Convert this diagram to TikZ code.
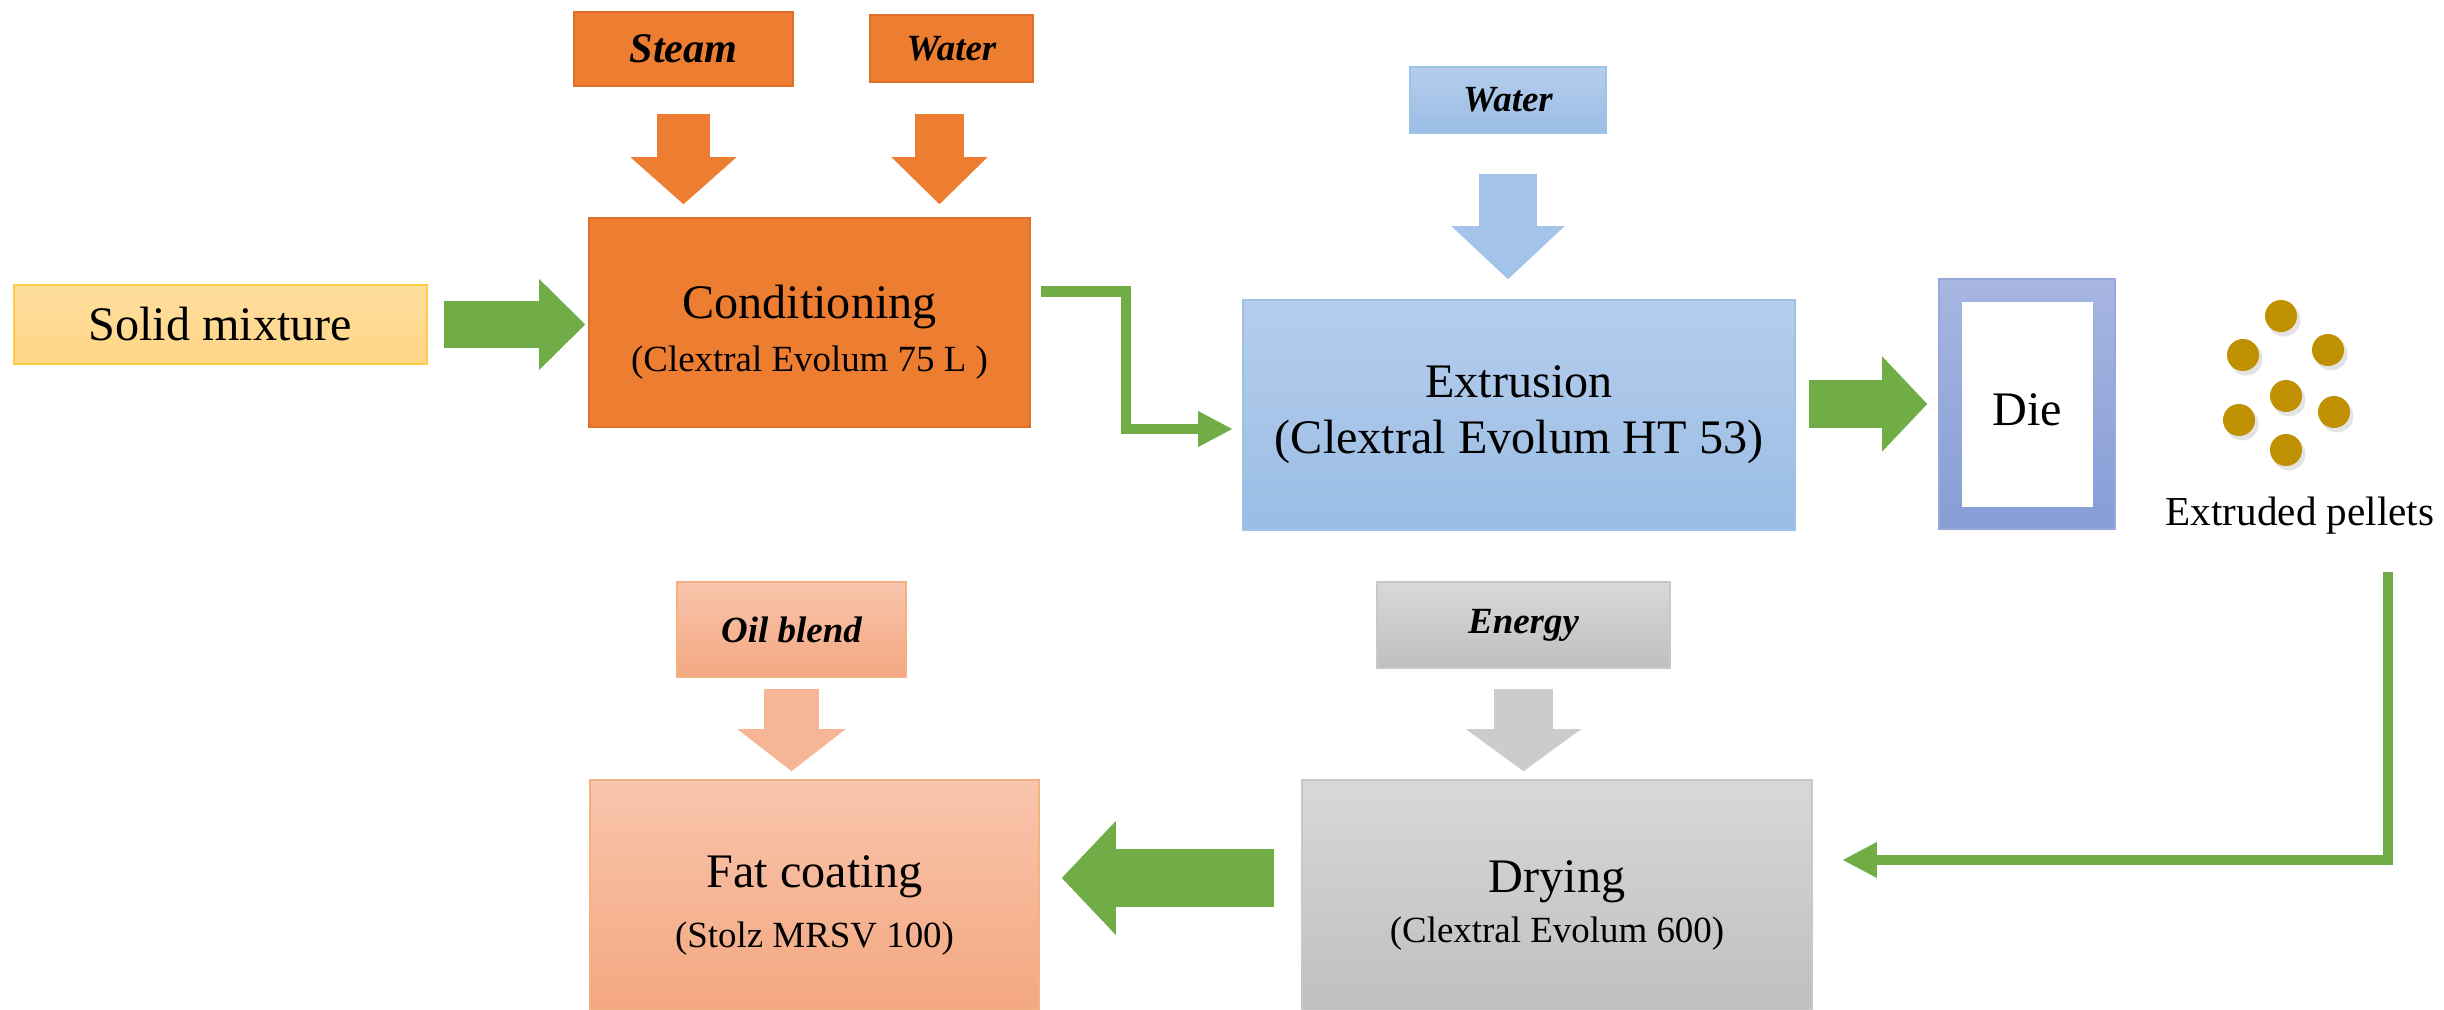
\documentclass[tikz,border=0pt]{standalone}
\usepackage{fontspec}
\setmainfont{Liberation Serif}
\usetikzlibrary{arrows.meta, positioning}
\definecolor{condcolor}{RGB}{237, 125, 49}
\definecolor{condedge}{RGB}{222, 112, 40}
\definecolor{solidtop}{RGB}{255, 223, 158}
\definecolor{solidbot}{RGB}{255, 213, 135}
\definecolor{solidedge}{RGB}{255, 204, 70}
\definecolor{extrtop}{RGB}{182, 205, 237}
\definecolor{extrbot}{RGB}{153, 189, 228}
\definecolor{extredge}{RGB}{157, 195, 230}
\definecolor{extrarrow}{RGB}{163, 196, 232}
\definecolor{dietop}{RGB}{167, 182, 225}
\definecolor{diebot}{RGB}{134, 157, 214}
\definecolor{dieedge}{RGB}{150, 170, 220}
\definecolor{fattop}{RGB}{248, 197, 173}
\definecolor{fatbot}{RGB}{244, 167, 128}
\definecolor{fatedge}{RGB}{244, 177, 131}
\definecolor{fatarrow}{RGB}{246, 182, 150}
\definecolor{drytop}{RGB}{216, 216, 216}
\definecolor{drybot}{RGB}{191, 191, 191}
\definecolor{dryedge}{RGB}{200, 200, 200}
\definecolor{dryarrow}{RGB}{204, 204, 204}
\definecolor{flowgreen}{RGB}{112, 173, 71}
\definecolor{pelletcolor}{RGB}{191, 144, 0}
\newcommand{\subline}[1]{{\fontsize{10.5}{12}\selectfont #1}}
\newcommand{\topgap}{\rule{0pt}{15pt}}
\tikzset{
  procbox/.style={
    rectangle, thin, inner sep=0pt, align=center, text=black,
    font=\fontsize{13.7}{16}\selectfont
  },
  feedbox/.style={
    rectangle, thin, inner sep=0pt, text=black,
    font=\fontsize{10.5}{12}\selectfont\bfseries\itshape
  },
  fatarr/.style n args={3}{
    line width=#1, -{Triangle[width=#2, length=#3, line width=0pt]}
  },
  thinarr/.style={
    line width=0.105cm, draw=flowgreen,
    -{Triangle[width=0.36cm, length=0.34cm, line width=0pt]}
  }
}

\begin{document}
\begin{tikzpicture}[x=0.01cm, y=-0.01cm]
  \useasboundingbox (0,0) rectangle (2444,1010);

  % ── Feeds ──────────────────────────────────────────────────────
  \node[feedbox, fill=condcolor, draw=condedge, minimum width=2.19cm,
        minimum height=0.74cm, font=\fontsize{12}{14}\selectfont\bfseries\itshape]
    (steam) at (683.5,49) {Steam};
  \node[feedbox, fill=condcolor, draw=condedge, minimum width=1.63cm,
        minimum height=0.67cm] (condwater) at (951.5,48.5) {Water};
  \node[feedbox, top color=extrtop, bottom color=extrbot, draw=extredge,
        minimum width=1.96cm, minimum height=0.66cm] (extrwater) at (1508,100) {Water};
  \node[feedbox, top color=fattop, bottom color=fatbot, draw=fatedge,
        minimum width=2.29cm, minimum height=0.95cm] (oil) at (791.5,629.5) {Oil blend};
  \node[feedbox, top color=drytop, bottom color=drybot, draw=dryedge,
        minimum width=2.93cm, minimum height=0.86cm] (energy) at (1523.5,625) {Energy};

  % ── Process steps ──────────────────────────────────────────────
  \node[procbox, top color=solidtop, bottom color=solidbot, draw=solidedge,
        minimum width=4.13cm, minimum height=0.79cm] (solid) at (220.5,324.5) {Solid mixture};
  \node[procbox, fill=condcolor, draw=condedge,
        minimum width=4.41cm, minimum height=2.09cm] (cond) at (809.5,322.5)
    {\topgap Conditioning\\[-1pt]\subline{(Clextral Evolum 75 L )}};
  \node[procbox, top color=extrtop, bottom color=extrbot, draw=extredge,
        minimum width=5.52cm, minimum height=2.30cm] (extr) at (1519,415)
    {Extrusion\\(Clextral Evolum HT 53)};
  \node[procbox, top color=dietop, bottom color=diebot, draw=dieedge,
        minimum width=1.76cm, minimum height=2.50cm] (die) at (2027,404) {};
  \node[procbox, fill=white, minimum width=1.31cm, minimum height=2.05cm]
    (diein) at (2027.5,404.5) {\rule{0pt}{12pt}Die};
  \node[procbox, top color=fattop, bottom color=fatbot, draw=fatedge,
        minimum width=4.49cm, minimum height=2.30cm] (fat) at (814.5,895)
    {\topgap Fat coating\\[1pt]\subline{(Stolz MRSV 100)}};
  \node[procbox, top color=drytop, bottom color=drybot, draw=dryedge,
        minimum width=5.10cm, minimum height=2.30cm] (dry) at (1557,895)
    {\topgap Drying\\[-2pt]\subline{(Clextral Evolum 600)}};

  % ── Pellets ────────────────────────────────────────────────────
  \foreach \px/\py in {2281/316, 2243/355, 2328/350, 2286/396,
                       2239/420, 2334/412, 2286/450} {
    \fill[gray!22] (\px+3,\py+4) circle[radius=0.165cm];
    \fill[pelletcolor] (\px,\py) circle[radius=0.16cm];
  }
  \node[font=\fontsize{11.7}{14}\selectfont] (pellets) at (2300,516) {Extruded pellets};
  \coordinate (pelletsout) at (2388,572);

  % ── Feed arrows ────────────────────────────────────────────────
  \draw[fatarr={0.53cm}{1.06cm}{0.47cm}, draw=condcolor,
        shorten <=0.27cm, shorten >=0.13cm]
    (steam.south) -- (steam.south |- cond.north);
  \draw[fatarr={0.48cm}{0.96cm}{0.47cm}, draw=condcolor,
        shorten <=0.31cm, shorten >=0.13cm]
    ([xshift=-0.12cm]condwater.south) -- ([xshift=-0.12cm]condwater.south |- cond.north);
  \draw[fatarr={0.58cm}{1.13cm}{0.53cm}, draw=extrarrow,
        shorten <=0.40cm, shorten >=0.20cm]
    (extrwater.south) -- (extrwater.south |- extr.north);
  \draw[fatarr={0.55cm}{1.08cm}{0.42cm}, draw=fatarrow,
        shorten <=0.11cm, shorten >=0.08cm]
    (oil.south) -- (oil.south |- fat.north);
  \draw[fatarr={0.58cm}{1.15cm}{0.42cm}, draw=dryarrow,
        shorten <=0.20cm, shorten >=0.08cm]
    (energy.south) -- (energy.south |- dry.north);

  % ── Main flow arrows ───────────────────────────────────────────
  \draw[fatarr={0.46cm}{0.91cm}{0.46cm}, draw=flowgreen,
        shorten <=0.16cm, shorten >=0.03cm]
    (solid.east) -- (solid.east -| cond.west);
  \draw[fatarr={0.47cm}{0.95cm}{0.45cm}, draw=flowgreen,
        shorten <=0.13cm, shorten >=0.11cm]
    (extr.east |- die.west) -- (die.west);
  \draw[fatarr={0.57cm}{1.14cm}{0.54cm}, draw=flowgreen,
        shorten <=0.27cm, shorten >=0.22cm]
    ([yshift=0.17cm]dry.west) -- ([yshift=0.17cm]dry.west -| fat.east);

  % ── Thin transfer lines ────────────────────────────────────────
  \draw[thinarr, shorten >=0.10cm]
    ([shift={(10,-31)}]cond.east) -- ++(85,0) |- ([yshift=-0.14cm]extr.west);
  \draw[thinarr, shorten >=0.30cm]
    (pelletsout) |- ([yshift=0.35cm]dry.east);

\end{tikzpicture}
\end{document}
